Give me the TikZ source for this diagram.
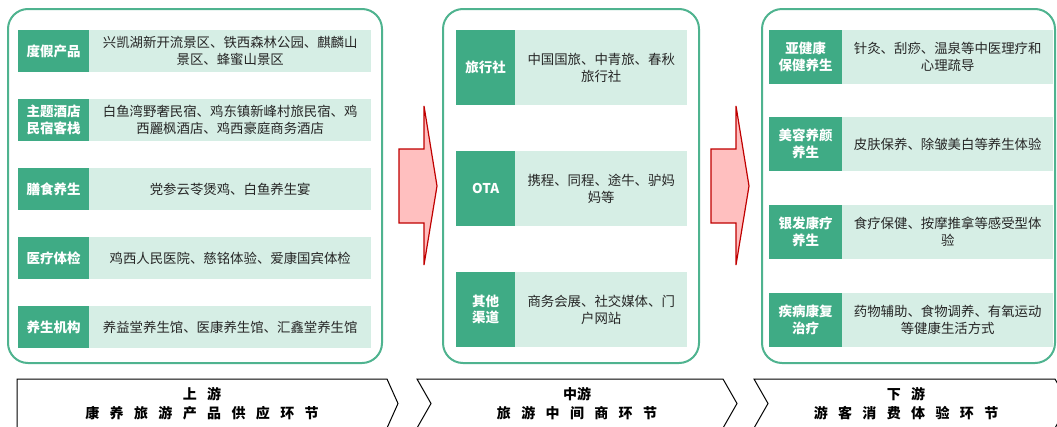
\documentclass[tikz,border=0pt]{standalone}
\usepackage{fontspec}
\setmainfont{Noto Sans CJK SC}
\definecolor{labgreen}{HTML}{3FAB85}
\definecolor{cellgreen}{HTML}{D6EEE5}
\definecolor{panelgreen}{HTML}{4FB38F}
\definecolor{arrowfill}{HTML}{FFBFBF}
\definecolor{arrowline}{HTML}{C00000}
\definecolor{celltext}{HTML}{262626}
\newcommand\gp{\hspace{0.74em}}
\tikzset{
  panel/.style={draw=panelgreen, line width=2pt, rounded corners=20pt},
  lab/.style={fill=labgreen, text=white, font=\bfseries\fontsize{13.5}{16.5}\selectfont,
              inner sep=0pt, anchor=north west, align=center},
  txt/.style={fill=cellgreen, text=celltext, font=\fontsize{13.4}{16.5}\selectfont,
              inner sep=0pt, anchor=north west, align=center},
  flow/.style={fill=arrowfill, draw=arrowline, line width=1.2pt, line join=miter},
  stagebox/.style={draw=black, line width=1pt},
  stage/.style={font=\bfseries\fontsize{14}{19.5}\selectfont, align=center},
}
\begin{document}
\begin{tikzpicture}[x=1pt, y=-1pt]
    \useasboundingbox (0,0) rectangle (1057,426);
    % panels
    \draw[panel] (8,9) rectangle (382,363);
    \draw[panel] (443,9) rectangle (699,363);
    \draw[panel] (762,9) rectangle (1055,363);
    % upstream
    \node[lab, minimum width=71pt, minimum height=41.5pt] (u1) at (18,30) {度假产品};
    \node[txt, minimum width=282pt, minimum height=41.5pt] (u1t) at (89,30) {兴凯湖新开流景区、铁西森林公园、麒麟山\\景区、蜂蜜山景区};
    \node[lab, minimum width=71pt, minimum height=41.5pt] (u2) at (18,99) {主题酒店\\民宿客栈};
    \node[txt, minimum width=282pt, minimum height=41.5pt] (u2t) at (89,99) {白鱼湾野奢民宿、鸡东镇新峰村旅民宿、鸡\\西麗枫酒店、鸡西豪庭商务酒店};
    \node[lab, minimum width=71pt, minimum height=41.5pt] (u3) at (18,168) {膳食养生};
    \node[txt, minimum width=282pt, minimum height=41.5pt] (u3t) at (89,168) {党参云苓煲鸡、白鱼养生宴};
    \node[lab, minimum width=71pt, minimum height=41.5pt] (u4) at (18,237) {医疗体检};
    \node[txt, minimum width=282pt, minimum height=41.5pt] (u4t) at (89,237) {鸡西人民医院、慈铭体验、爱康国宾体检};
    \node[lab, minimum width=71pt, minimum height=41.5pt] (u5) at (18,306) {养生机构};
    \node[txt, minimum width=282pt, minimum height=41.5pt] (u5t) at (89,306) {养益堂养生馆、医康养生馆、汇鑫堂养生馆};
    % midstream
    \node[lab, minimum width=59pt, minimum height=75pt] (m1) at (456,30) {旅行社};
    \node[txt, minimum width=172pt, minimum height=75pt] (m1t) at (515,30) {中国国旅、中青旅、春秋\\旅行社};
    \node[lab, minimum width=59pt, minimum height=75pt] (m2) at (456,151) {OTA};
    \node[txt, minimum width=172pt, minimum height=75pt] (m2t) at (515,151) {携程、同程、途牛、驴妈\\妈等};
    \node[lab, minimum width=59pt, minimum height=75pt] (m3) at (456,272) {其他\\渠道};
    \node[txt, minimum width=172pt, minimum height=75pt] (m3t) at (515,272) {商务会展、社交媒体、门\\户网站};
    % downstream
    \node[lab, minimum width=73pt, minimum height=53.5pt] (d1) at (769,30) {亚健康\\保健养生};
    \node[txt, minimum width=211pt, minimum height=53.5pt] (d1t) at (842,30) {针灸、刮痧、温泉等中医理疗和\\心理疏导};
    \node[lab, minimum width=73pt, minimum height=53.5pt] (d2) at (769,117) {美容养颜\\养生};
    \node[txt, minimum width=211pt, minimum height=53.5pt] (d2t) at (842,117) {皮肤保养、除皱美白等养生体验};
    \node[lab, minimum width=73pt, minimum height=53.5pt] (d3) at (769,205) {银发康疗\\养生};
    \node[txt, minimum width=211pt, minimum height=53.5pt] (d3t) at (842,205) {食疗保健、按摩推拿等感受型体\\验};
    \node[lab, minimum width=73pt, minimum height=53.5pt] (d4) at (769,293) {疾病康复\\治疗};
    \node[txt, minimum width=211pt, minimum height=53.5pt] (d4t) at (842,293) {药物辅助、食物调养、有氧运动\\等健康生活方式};
    % arrows between panels
    \draw[flow] (399,149) -- (424,149) -- (424,106) -- (437,186) -- (424,265) -- (424,223) -- (399,223) -- cycle;
    \draw[flow] (711,149) -- (736,149) -- (736,106) -- (749,186) -- (736,265) -- (736,223) -- (711,223) -- cycle;
    % stages
    \draw[stagebox] (17,379) -- (387,379) -- (398,403.5) -- (387,428) -- (17,428) -- cycle;
    \draw[stagebox] (417,379) -- (723,379) -- (737,403.5) -- (723,428) -- (417,428) -- (431,403.5) -- cycle;
    \draw[stagebox] (754,379) -- (1055,379) -- (1069,403.5) -- (1055,428) -- (754,428) -- (768,403.5) -- cycle;
    \node[stage] (s1) at (202,403.5) {上\gp 游\\康\gp 养\gp 旅\gp 游\gp 产\gp 品\gp 供\gp 应\gp 环\gp 节};
    \node[stage] (s2) at (577,403.5) {中游\\旅\gp 游\gp 中\gp 间\gp 商\gp 环\gp 节};
    \node[stage] (s3) at (906,403.5) {下\gp 游\\游\gp 客\gp 消\gp 费\gp 体\gp 验\gp 环\gp 节};
\end{tikzpicture}
\end{document}
